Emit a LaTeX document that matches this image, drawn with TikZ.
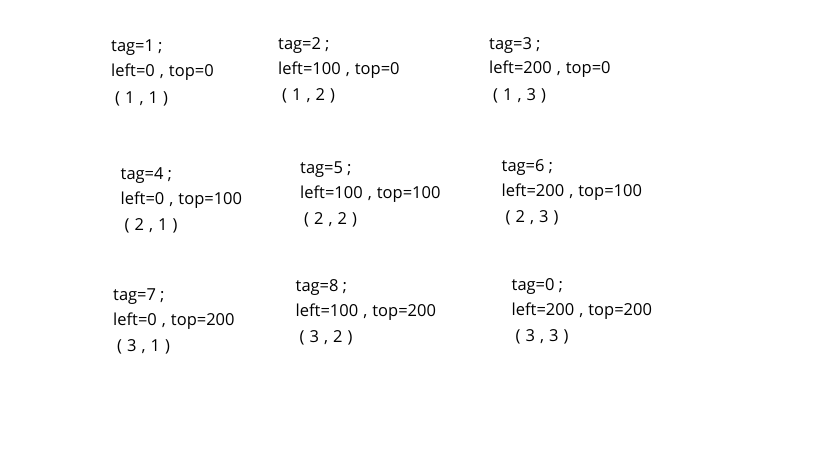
\documentclass[tikz,border=0pt]{standalone}
\usepackage{fontspec}
\setmainfont{Open Sans}
% spaced punctuation
\newcommand\spsemi{\hspace{4pt};}
\newcommand\spcomma{\hspace{5pt},\hspace{5pt}}
\newcommand\splp{\hspace{4pt}(\hspace{5pt}}
\newcommand\sprp{\hspace{5pt})}
\begin{document}
\begin{tikzpicture}[x=1pt,y=-1pt,
  txt/.style={anchor=base west, inner sep=0pt, text=black,
              font=\fontsize{16.5}{20}\selectfont}]
\useasboundingbox (0,0) rectangle (819,460);
\fill[white] (0,0) rectangle (819,460);
% one cell: index / x / first baseline / tag / left / top / row / column
\foreach \i/\x/\y/\t/\l/\p/\r/\c in {
  1/111/52/1/0/0/1/1,
  2/278/49.3/2/100/0/1/2,
  3/489/49/3/200/0/1/3,
  4/120.5/179.3/4/0/100/2/1,
  5/300/173.3/5/100/100/2/2,
  6/501.5/171.3/6/200/100/2/3,
  7/113/300.7/7/0/200/3/1,
  8/295.5/291.7/8/100/200/3/2,
  9/511.5/290.7/0/200/200/3/3}{
  \node[txt] (tag\i) at (\x,\y) {tag=\t\spsemi};
  \node[txt] (pos\i) at (\x,\y+25) {left=\l\spcomma top=\p};
  \node[txt] (cell\i) at (\x,\y+51) {\splp\r\spcomma\c\sprp};
}
\end{tikzpicture}
\end{document}
